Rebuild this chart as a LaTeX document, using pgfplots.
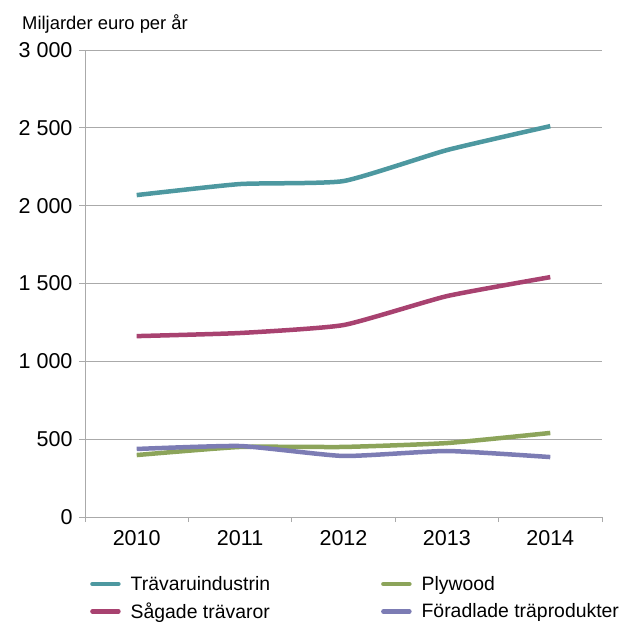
\documentclass[border=0pt]{standalone}
\usepackage{pgfplots}
\pgfplotsset{compat=1.18}
\usepackage{fontspec}
\setmainfont{Liberation Sans}
\definecolor{cTeal}{RGB}{77,152,160}
\definecolor{cMag}{RGB}{168,66,112}
\definecolor{cGreen}{RGB}{140,164,90}
\definecolor{cPurp}{RGB}{124,124,180}
\definecolor{cGrid}{RGB}{170,170,170}
\begin{document}
\begin{tikzpicture}
\path[use as bounding box] (-85pt,-108pt) rectangle (539pt,517pt);
\begin{axis}[
  at={(0pt,0pt)}, anchor=origin,
  scale only axis, width=517pt, height=467pt,
  xmin=2009.5, xmax=2014.5, ymin=0, ymax=3000,
  axis x line*=bottom, axis y line*=left,
  axis line style={-, draw=cGrid, line width=0.8pt},
  xtick={2010,2011,2012,2013,2014},
  xticklabels={2010,2011,2012,2013,2014},
  major x tick style={draw=none},
  minor xtick={2009.5,2010.5,2011.5,2012.5,2013.5,2014.5},
  minor tick length=5pt,
  minor x tick style={draw=cGrid, line width=0.8pt},
  ytick={0,500,1000,1500,2000,2500,3000},
  yticklabels={0,500,1 000,1 500,2 000,2 500,3 000},
  major tick length=6pt,
  tick align=outside,
  y tick style={draw=cGrid, line width=0.8pt},
  ymajorgrids, grid style={draw=cGrid, line width=0.8pt},
  tick label style={font=\fontsize{21.5}{24}\selectfont},
  yticklabel style={xshift=-3pt},
  xticklabel style={yshift=-4pt},
  legend columns=2,
  legend style={draw=none, fill=none, at={(rel axis cs:0,0)}, anchor=north west,
    xshift=2pt, yshift=-55pt, font=\fontsize{19.4}{22}\selectfont,
    row sep=7pt,
    /tikz/every odd column/.append style={column sep=8pt},
    /tikz/every even column/.append style={column sep=109pt}},
  legend cell align=left,
  legend image code/.code={\draw[#1, line cap=round] (0pt,0pt) -- (26pt,0pt);},
  clip=false,
]
\addplot[cTeal, line width=4.5pt, smooth, tension=0.3, mark=none] coordinates {(2010,2068) (2011,2139) (2012,2158) (2013,2357) (2014,2511)};
\addlegendentry{Trävaruindustrin}
\addplot[cGreen, line width=4.5pt, smooth, tension=0.3, mark=none] coordinates {(2010,398) (2011,450) (2012,450) (2013,475) (2014,540)};
\addlegendentry{Plywood}
\addplot[cMag, line width=4.5pt, smooth, tension=0.3, mark=none] coordinates {(2010,1162) (2011,1182) (2012,1233) (2013,1419) (2014,1541)};
\addlegendentry{Sågade trävaror}
\addplot[cPurp, line width=4.5pt, smooth, tension=0.3, mark=none] coordinates {(2010,437) (2011,456) (2012,392) (2013,424) (2014,385)};
\addlegendentry{Föradlade träprodukter}
\node[anchor=base west, font=\fontsize{18.4}{21}\selectfont, inner sep=0pt] at (rel axis cs:0,1) [xshift=-63pt, yshift=21pt] {Miljarder euro per år};
\end{axis}
\end{tikzpicture}
\end{document}
